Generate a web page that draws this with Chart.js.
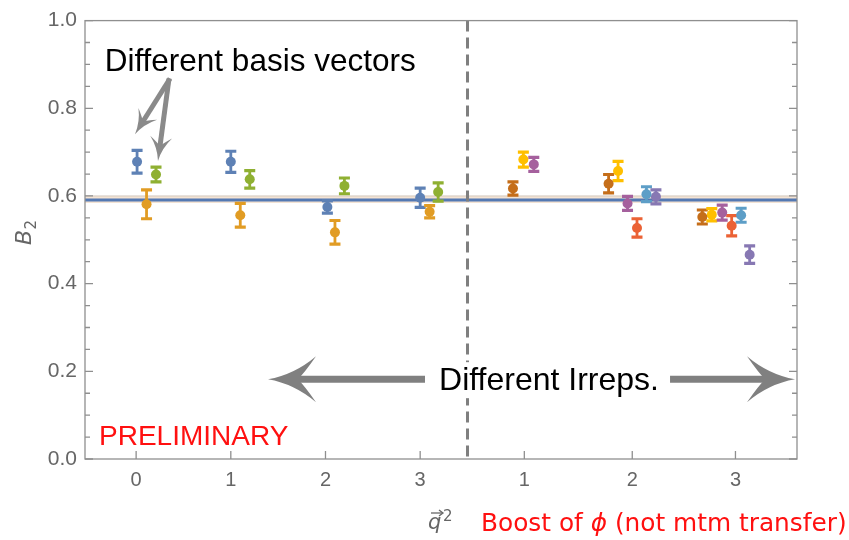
<!DOCTYPE html>
<html><head><meta charset="utf-8">
<script src="https://cdn.jsdelivr.net/npm/chart.js@4"></script>
<style>html,body{margin:0;padding:0;background:#fff}#wrap{width:849px;height:540px}</style>
</head><body><div id="wrap"><canvas id="c" width="849" height="540"></canvas></div>
<script>
// ---- tick positions and labels ----
const xTickPositions = [0, 1, 2, 3, 4.1, 5.24, 6.33];
const xTickLabels = ['0', '1', '2', '3', '1', '2', '3'];
const yTickValues = [0, 0.2, 0.4, 0.6, 0.8, 1.0];
const irrepBoundary = 3.5;
const fitValue = 0.591, fitLow = 0.584, fitHigh = 0.600;

// ---- left block: q^2 = 0..3 ----
const blueX = [0.01, 1.0, 2.02, 3.0];
const blueY = [0.678, 0.678, 0.575, 0.596];
const blueErr = [0.026, 0.024, 0.014, 0.022];
const orangeX = [0.11, 1.10, 2.10, 3.10];
const orangeY = [0.581, 0.556, 0.517, 0.564];
const orangeErr = [0.033, 0.027, 0.027, 0.014];
const greenX = [0.21, 1.20, 2.20, 3.19];
const greenY = [0.649, 0.638, 0.623, 0.609];
const greenErr = [0.017, 0.020, 0.018, 0.021];

// ---- right block: boost of phi 1..3 ----
const brownX = [3.98, 4.99, 5.98];
const brownY = [0.617, 0.628, 0.552];
const brownErr = [0.015, 0.021, 0.016];
const yellowX = [4.09, 5.09, 6.08];
const yellowY = [0.683, 0.657, 0.557];
const yellowErr = [0.017, 0.022, 0.014];
const purpleX = [4.20, 5.19, 6.19];
const purpleY = [0.672, 0.583, 0.562];
const purpleErr = [0.016, 0.016, 0.017];
const redX = [5.29, 6.29];
const redY = [0.527, 0.532];
const redErr = [0.021, 0.023];
const cyanX = [5.39, 6.39];
const cyanY = [0.604, 0.556];
const cyanErr = [0.017, 0.016];
const violetX = [5.49, 6.48];
const violetY = [0.598, 0.466];
const violetErr = [0.016, 0.020];

const series = [
  {x: blueX, y: blueY, e: blueErr, c: '#5E81B5'},
  {x: orangeX, y: orangeY, e: orangeErr, c: '#E19C24'},
  {x: greenX, y: greenY, e: greenErr, c: '#8FB032'},
  {x: brownX, y: brownY, e: brownErr, c: '#C56E1A'},
  {x: yellowX, y: yellowY, e: yellowErr, c: '#FFBF00'},
  {x: purpleX, y: purpleY, e: purpleErr, c: '#A5609D'},
  {x: redX, y: redY, e: redErr, c: '#EB6235'},
  {x: cyanX, y: cyanY, e: cyanErr, c: '#5D9EC7'},
  {x: violetX, y: violetY, e: violetErr, c: '#8778B3'}
];

const datasets = series.map(s => ({
  data: s.x.map((xv, i) => ({x: xv, y: s.y[i]})),
  errs: s.e,
  backgroundColor: s.c, borderColor: s.c,
  pointRadius: 5, pointHoverRadius: 5, borderWidth: 0
}));

function drawArrow(ctx, x1, y1, x2, y2, shaftW, L, W, color) {
  const dx = x2 - x1, dy = y2 - y1, len = Math.hypot(dx, dy);
  const ux = dx / len, uy = dy / len, nx = -uy, ny = ux;
  ctx.save();
  ctx.strokeStyle = color; ctx.fillStyle = color; ctx.lineWidth = shaftW; ctx.lineCap = 'butt';
  ctx.beginPath(); ctx.moveTo(x1, y1); ctx.lineTo(x2 - ux * L * 0.6, y2 - uy * L * 0.6); ctx.stroke();
  const bx = x2 - ux * L, by = y2 - uy * L;
  const c1x = bx + nx * W, c1y = by + ny * W, c2x = bx - nx * W, c2y = by - ny * W;
  const notchX = x2 - ux * L * 0.62, notchY = y2 - uy * L * 0.62;
  ctx.beginPath();
  ctx.moveTo(x2, y2);
  ctx.quadraticCurveTo(x2 - ux * L * 0.55 + nx * W * 0.2, y2 - uy * L * 0.55 + ny * W * 0.2, c1x, c1y);
  ctx.quadraticCurveTo(x2 - ux * L * 0.75 + nx * W * 0.25, y2 - uy * L * 0.75 + ny * W * 0.25, notchX, notchY);
  ctx.quadraticCurveTo(x2 - ux * L * 0.75 - nx * W * 0.25, y2 - uy * L * 0.75 - ny * W * 0.25, c2x, c2y);
  ctx.quadraticCurveTo(x2 - ux * L * 0.55 - nx * W * 0.2, y2 - uy * L * 0.55 - ny * W * 0.2, x2, y2);
  ctx.closePath(); ctx.fill();
  ctx.restore();
}

const decor = {
  id: 'decor',
  beforeDatasetsDraw(chart) {
    const {ctx, chartArea: a, scales: {x, y}} = chart;
    ctx.save();
    // fit band + line
    ctx.fillStyle = '#f3e3d3';
    ctx.fillRect(a.left, y.getPixelForValue(fitHigh), a.right - a.left, y.getPixelForValue(fitLow) - y.getPixelForValue(fitHigh));
    ctx.strokeStyle = '#d3c9bf'; ctx.lineWidth = 1;
    ctx.beginPath(); ctx.moveTo(a.left, y.getPixelForValue(fitHigh)); ctx.lineTo(a.right, y.getPixelForValue(fitHigh)); ctx.stroke();
    ctx.strokeStyle = '#5479B3'; ctx.lineWidth = 3;
    ctx.beginPath(); ctx.moveTo(a.left, y.getPixelForValue(fitValue)); ctx.lineTo(a.right, y.getPixelForValue(fitValue)); ctx.stroke();
    // dashed boundary
    const bx = x.getPixelForValue(irrepBoundary);
    ctx.strokeStyle = '#7f7f7f'; ctx.lineWidth = 3; ctx.setLineDash([11, 6]);
    ctx.beginPath(); ctx.moveTo(bx, a.top); ctx.lineTo(bx, a.bottom); ctx.stroke();
    ctx.setLineDash([]);
    // error bars
    chart.data.datasets.forEach(ds => {
      ctx.strokeStyle = ds.borderColor;
      ds.data.forEach((p, i) => {
        const px = x.getPixelForValue(p.x);
        const yt = y.getPixelForValue(p.y + ds.errs[i]);
        const yb = y.getPixelForValue(p.y - ds.errs[i]);
        ctx.lineWidth = 2.8;
        ctx.beginPath(); ctx.moveTo(px, yt); ctx.lineTo(px, yb); ctx.stroke();
        ctx.lineWidth = 3.2;
        ctx.beginPath();
        ctx.moveTo(px - 5.5, yt); ctx.lineTo(px + 5.5, yt);
        ctx.moveTo(px - 5.5, yb); ctx.lineTo(px + 5.5, yb);
        ctx.stroke();
      });
    });
    ctx.restore();
  },
  afterDraw(chart) {
    const {ctx, chartArea: a, scales: {x, y}} = chart;
    const P = (xv, yv) => [x.getPixelForValue(xv), y.getPixelForValue(yv)];
    ctx.save();
    // frame
    ctx.strokeStyle = '#8f8f8f'; ctx.lineWidth = 1.3;
    ctx.strokeRect(a.left, a.top, a.right - a.left, a.bottom - a.top);
    ctx.beginPath();
    for (let k = 0; k <= 20; k++) {
      const v = k * 0.05, py = y.getPixelForValue(v);
      const len = (k % 4 === 0) ? 8 : 5;
      ctx.moveTo(a.left, py); ctx.lineTo(a.left + len, py);
      ctx.moveTo(a.right, py); ctx.lineTo(a.right - len, py);
    }
    xTickPositions.forEach(v => {
      const px = x.getPixelForValue(v);
      ctx.moveTo(px, a.bottom); ctx.lineTo(px, a.bottom - 8);
    });
    ctx.stroke();

    // annotation: different basis vectors
    const tail = P(0.358, 0.868);
    const t1 = P(-0.012, 0.741), t2 = P(0.231, 0.680);
    drawArrow(ctx, tail[0], tail[1], t1[0], t1[1], 5, 24, 11, '#8a8a8a');
    drawArrow(ctx, tail[0] - 1, tail[1], t2[0], t2[1], 5, 24, 11, '#8a8a8a');
    ctx.fillStyle = '#000'; ctx.font = '31.5px "Liberation Sans", Arial, sans-serif';
    ctx.textAlign = 'center'; ctx.textBaseline = 'alphabetic';
    const bt = P(1.31, 0.886);
    ctx.fillText('Different basis vectors', bt[0], bt[1]);

    // annotation: different irreps
    const l1 = P(3.051, 0.182), l2 = P(1.393, 0.182);
    const r1 = P(5.639, 0.182), r2 = P(6.959, 0.182);
    drawArrow(ctx, l1[0], l1[1], l2[0], l2[1], 7, 48, 23, '#808080');
    drawArrow(ctx, r1[0], r1[1], r2[0], r2[1], 7, 48, 23, '#808080');
    const it = P(4.361, 0.157);
    ctx.font = '32px "Liberation Sans", Arial, sans-serif';
    const w = ctx.measureText('Different Irreps.').width;
    ctx.fillStyle = '#fff';
    ctx.fillRect(it[0] - w / 2 - 3, it[1] - 28, w + 6, 36);
    ctx.fillStyle = '#000';
    ctx.fillText('Different Irreps.', it[0], it[1]);

    // PRELIMINARY
    const pt = P(-0.392, 0.032);
    ctx.textAlign = 'left'; ctx.fillStyle = '#ff1010';
    ctx.font = '28px "Liberation Sans", Arial, sans-serif';
    ctx.fillText('PRELIMINARY', pt[0], pt[1]);

    // y-axis label B_2
    ctx.save();
    ctx.translate(31, 233);
    ctx.rotate(-Math.PI / 2);
    ctx.fillStyle = '#666';
    ctx.textAlign = 'left';
    ctx.font = 'italic 22px "DejaVu Sans", sans-serif';
    const bw = ctx.measureText('B').width;
    ctx.fillText('B', -12, 0);
    ctx.font = '15px "DejaVu Sans", sans-serif';
    ctx.fillText('2', -12 + bw + 0.5, 5);
    ctx.restore();

    // bottom axis label
    ctx.fillStyle = '#666';
    ctx.font = 'italic 21px "DejaVu Sans", sans-serif';
    ctx.fillText('q', 428, 529);
    ctx.strokeStyle = '#666'; ctx.lineWidth = 1.3;
    ctx.beginPath(); ctx.moveTo(431, 513); ctx.lineTo(442, 513); ctx.stroke();
    ctx.beginPath(); ctx.moveTo(439, 510); ctx.lineTo(443, 513); ctx.lineTo(439, 516); ctx.stroke();
    ctx.font = '15px "DejaVu Sans", sans-serif';
    ctx.fillText('2', 443, 521);
    ctx.fillStyle = '#ff1010';
    ctx.font = '24.8px "DejaVu Sans", sans-serif';
    let cx = 481;
    const part1 = 'Boost of ';
    ctx.fillText(part1, cx, 531); cx += ctx.measureText(part1).width;
    ctx.font = 'italic 24.8px "DejaVu Sans", sans-serif';
    ctx.fillText('\u03D5', cx, 531); cx += ctx.measureText('\u03D5').width;
    ctx.font = '24.8px "DejaVu Sans", sans-serif';
    ctx.fillText(' (not mtm transfer)', cx, 531);
    ctx.restore();
  }
};

new Chart(document.getElementById('c'), {
  type: 'scatter',
  data: {datasets},
  options: {
    responsive: false, animation: false, devicePixelRatio: 1,
    layout: {padding: {left: 0, right: 52, top: 19, bottom: 0}},
    plugins: {legend: {display: false}, tooltip: {enabled: false}},
    scales: {
      x: {
        type: 'linear', min: -0.54, max: 6.98,
        grid: {display: false, drawTicks: false}, border: {display: false},
        afterBuildTicks: s => { s.ticks = xTickPositions.map(v => ({value: v})); },
        afterFit: s => { s.height = 81; },
        ticks: {
          autoSkip: false, maxRotation: 0, padding: 9, color: '#666',
          font: {family: '"Liberation Sans", Arial, sans-serif', size: 20},
          callback: (v, i) => xTickLabels[i]
        }
      },
      y: {
        min: 0, max: 1,
        grid: {display: false, drawTicks: false}, border: {display: false},
        afterBuildTicks: s => { s.ticks = yTickValues.map(v => ({value: v})); },
        afterFit: s => { s.width = 85; },
        ticks: {
          padding: 8, color: '#666',
          font: {family: '"Liberation Sans", Arial, sans-serif', size: 21},
          callback: v => Number(v).toFixed(1)
        }
      }
    }
  },
  plugins: [decor]
});
</script></body></html>
